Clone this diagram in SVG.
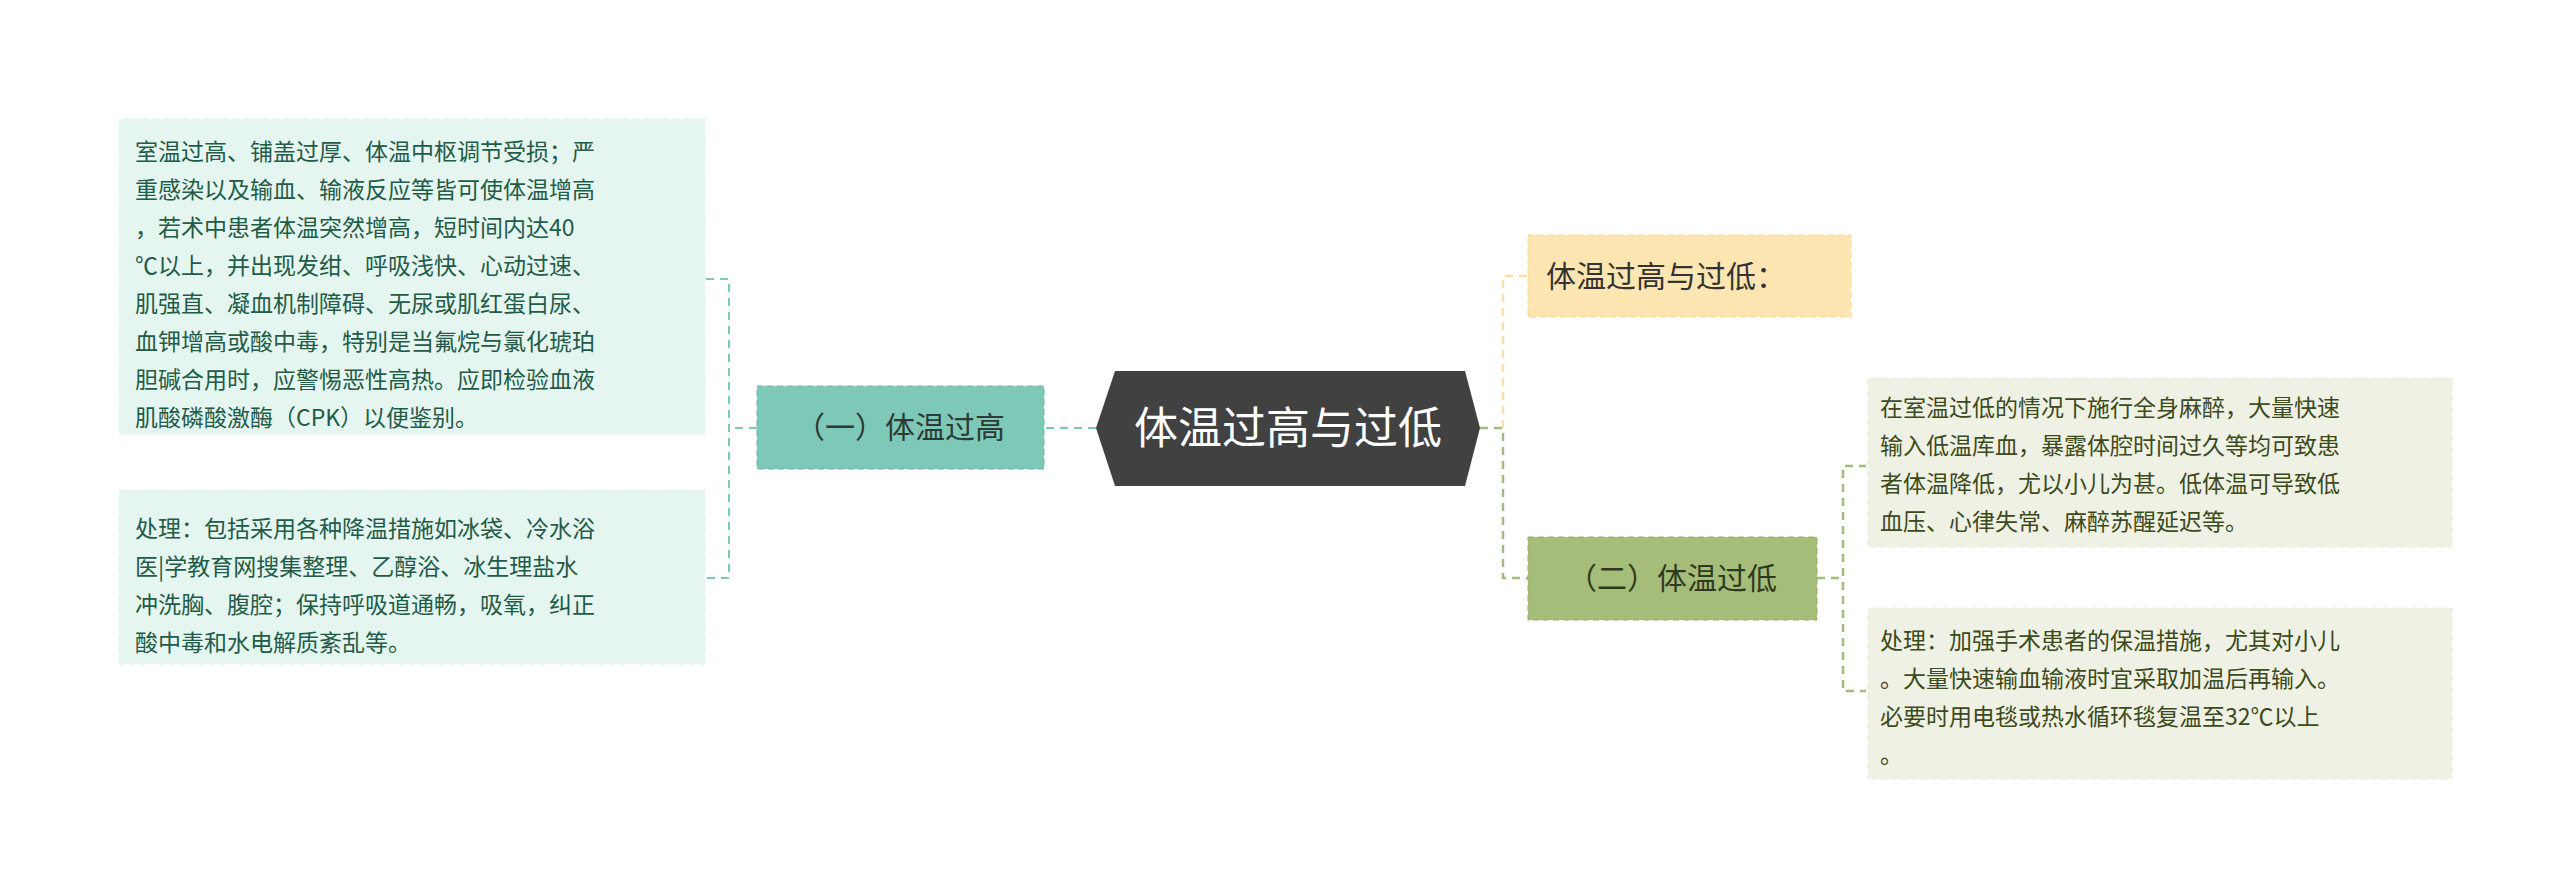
<svg xmlns="http://www.w3.org/2000/svg" width="2560" height="895" viewBox="0 0 2560 895">
<style>
text{font-family:"Noto Sans CJK SC","Liberation Sans",sans-serif}
.t{font-size:23px}
.lt{fill:#225c48}
.rt{fill:#3c4a1c}
.lb{fill:#e5f5f0;stroke:#fff;stroke-dasharray:6 4;stroke-width:2}
.rb{fill:#eef1e3;stroke:#fff;stroke-dasharray:6 4;stroke-width:2}
.cg{fill:none;stroke:#7ec8b8;stroke-width:2;stroke-dasharray:8 6}
.cy{fill:none;stroke:#fbe0a5;stroke-width:2.5;stroke-dasharray:8 6}
.co{fill:none;stroke:#a5bb7a;stroke-width:2.5;stroke-dasharray:8 6}
</style>
<rect width="2560" height="895" fill="#fff"/>
<g id="connectors">
<path class="cg" d="M1096 428 H1044"/>
<path class="cg" d="M757 428 H729 M706 279 H729 V578 H706"/>
<path class="co" d="M1480 428 H1503 V578 H1528"/>
<path class="cy" d="M1503 428 V276 H1528"/>
<path class="co" d="M1817 578 H1843 M1867 466 H1843 V691 H1867"/>
</g>
<g id="center">
<path d="M1115 371 H1465 L1480 428 L1465 486 H1115 L1096 428 Z" fill="#414141"/>
<text x="1288" y="444" font-size="44" fill="#fff" text-anchor="middle">体温过高与过低</text>
</g>
<g id="n1">
<rect x="757" y="386" width="287" height="83" fill="#7ec8b8" stroke="#6ab5a5" stroke-dasharray="6 4"/>
<text x="900" y="438" font-size="30" fill="#2e3a36" text-anchor="middle">（一）体温过高</text>
</g>
<g id="n1a">
<rect class="lb" x="118" y="118" width="588" height="317"/>
<text class="t lt" x="135" y="160">室温过高、铺盖过厚、体温中枢调节受损；严</text>
<text class="t lt" x="135" y="198">重感染以及输血、输液反应等皆可使体温增高</text>
<text class="t lt" x="135" y="236">，若术中患者体温突然增高，短时间内达40</text>
<text class="t lt" x="135" y="274">℃以上，并出现发绀、呼吸浅快、心动过速、</text>
<text class="t lt" x="135" y="312">肌强直、凝血机制障碍、无尿或肌红蛋白尿、</text>
<text class="t lt" x="135" y="350">血钾增高或酸中毒，特别是当氟烷与氯化琥珀</text>
<text class="t lt" x="135" y="388">胆碱合用时，应警惕恶性高热。应即检验血液</text>
<text class="t lt" x="135" y="426">肌酸磷酸激酶（CPK）以便鉴别。</text>
</g>
<g id="n1b">
<rect class="lb" x="118" y="489" width="588" height="176"/>
<text class="t lt" x="135" y="537">处理：包括采用各种降温措施如冰袋、冷水浴</text>
<text class="t lt" x="135" y="575">医|学教育网搜集整理、乙醇浴、冰生理盐水</text>
<text class="t lt" x="135" y="613">冲洗胸、腹腔；保持呼吸道通畅，吸氧，纠正</text>
<text class="t lt" x="135" y="651">酸中毒和水电解质紊乱等。</text>
</g>
<g id="n2">
<rect x="1528" y="235" width="323" height="82" fill="#fde6b2" stroke="#f5d590" stroke-dasharray="6 4"/>
<text x="1546" y="287" font-size="30" fill="#333">体温过高与过低：</text>
</g>
<g id="n3">
<rect x="1528" y="537" width="289" height="83" fill="#a5bd79" stroke="#94ad68" stroke-dasharray="6 4"/>
<text x="1672" y="589" font-size="30" fill="#2e3a20" text-anchor="middle">（二）体温过低</text>
</g>
<g id="n3a">
<rect class="rb" x="1867" y="377" width="586" height="171"/>
<text class="t rt" x="1880" y="416">在室温过低的情况下施行全身麻醉，大量快速</text>
<text class="t rt" x="1880" y="454">输入低温库血，暴露体腔时间过久等均可致患</text>
<text class="t rt" x="1880" y="492">者体温降低，尤以小儿为甚。低体温可导致低</text>
<text class="t rt" x="1880" y="530">血压、心律失常、麻醉苏醒延迟等。</text>
</g>
<g id="n3b">
<rect class="rb" x="1867" y="607" width="586" height="173"/>
<text class="t rt" x="1880" y="649">处理：加强手术患者的保温措施，尤其对小儿</text>
<text class="t rt" x="1880" y="687">。大量快速输血输液时宜采取加温后再输入。</text>
<text class="t rt" x="1880" y="725">必要时用电毯或热水循环毯复温至32℃以上</text>
<text class="t rt" x="1880" y="763">。</text>
</g>
</svg>
